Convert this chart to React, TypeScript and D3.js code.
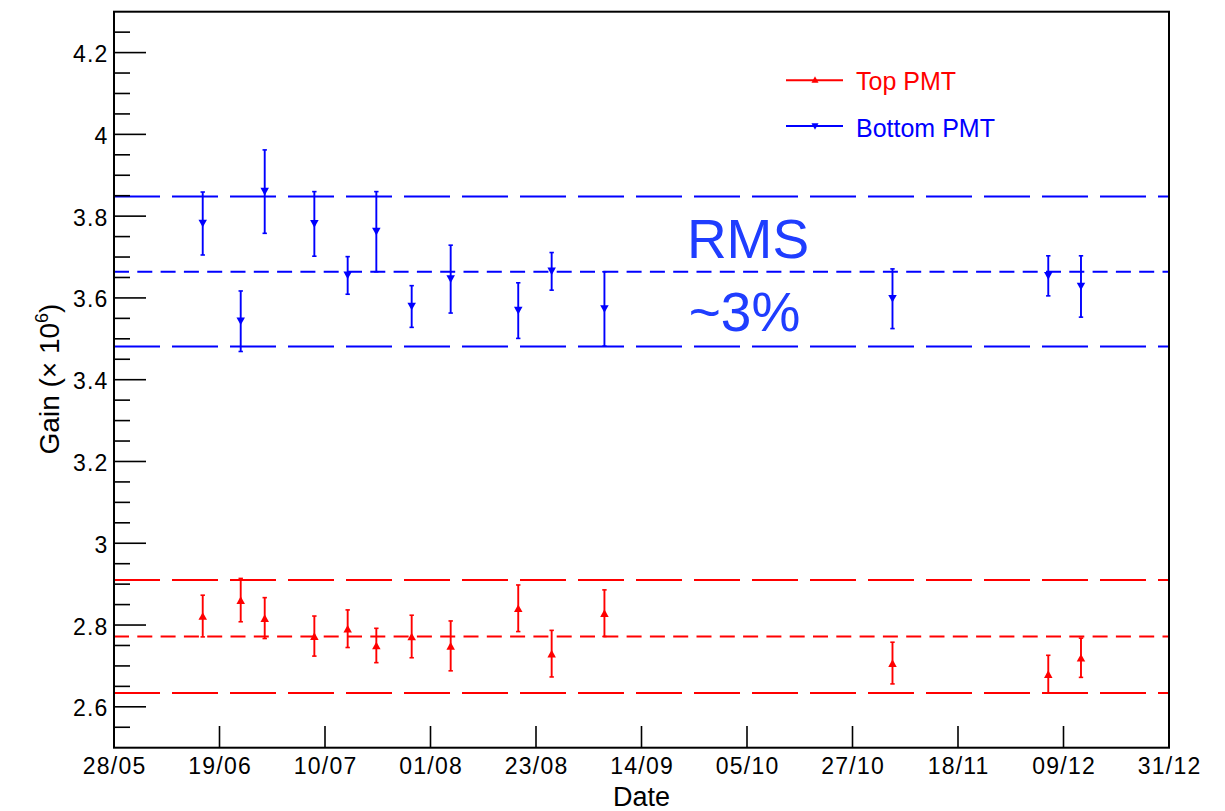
import React from "react";
import * as d3 from "d3";

// ---------- data ----------
const dates = [
  "2015-06-15T06:00:00Z",
  "2015-06-23T01:30:00Z",
  "2015-06-28T00:00:00Z",
  "2015-07-08T05:00:00Z",
  "2015-07-15T01:30:00Z",
  "2015-07-20T23:00:00Z",
  "2015-07-28T05:30:00Z",
  "2015-08-05T06:00:00Z",
  "2015-08-19T03:30:00Z",
  "2015-08-26T00:30:00Z",
  "2015-09-05T21:00:00Z",
  "2015-11-04T03:00:00Z",
  "2015-12-06T04:00:00Z",
  "2015-12-12T21:30:00Z",
];
const topGain = [2.822, 2.861, 2.817, 2.773, 2.791, 2.75, 2.772, 2.749, 2.841, 2.73, 2.829, 2.707, 2.68, 2.72];
const topErr = [0.051, 0.053, 0.05, 0.049, 0.046, 0.042, 0.052, 0.061, 0.057, 0.057, 0.057, 0.051, 0.046, 0.048];
const bottomGain = [3.782, 3.543, 3.86, 3.781, 3.655, 3.762, 3.579, 3.646, 3.569, 3.665, 3.573, 3.598, 3.654, 3.628];
const bottomErr = [0.077, 0.074, 0.102, 0.079, 0.046, 0.098, 0.051, 0.083, 0.068, 0.046, 0.091, 0.073, 0.049, 0.075];

const topBand = { mean: 2.772, hi: 2.91, lo: 2.634 };
const bottomBand = { mean: 3.664, hi: 3.848, lo: 3.481 };

const xTickLabels = ["28/05", "19/06", "10/07", "01/08", "23/08", "14/09", "05/10", "27/10", "18/11", "09/12", "31/12"];
const yTickValues = [2.6, 2.8, 3, 3.2, 3.4, 3.6, 3.8, 4, 4.2];
const xDomain = ["2015-05-28T00:00:00Z", "2015-12-31T00:00:00Z"];
const yDomain = [2.5, 4.3];

const RED = "#ff0000";
const BLUE = "#0000ff";
const FONT = "'Liberation Sans', Arial, Helvetica, sans-serif";

export default function App() {
  const W = 1225, H = 811;
  const left = 114, right = 1169, top = 11.7, bottom = 747.7;

  const t0 = new Date(xDomain[0]);
  const t1 = new Date(xDomain[1]);
  const x = d3.scaleUtc().domain([t0, t1]).range([left, right]);
  const y = d3.scaleLinear().domain(yDomain).range([bottom, top]);

  const span = t1.getTime() - t0.getTime();
  const xTicks = xTickLabels.map((lab, i) => ({
    lab,
    d: new Date(t0.getTime() + (i * span) / (xTickLabels.length - 1)),
  }));

  const minorY = d3
    .range(0, 37)
    .map((i) => yDomain[0] + i * 0.05)
    .filter((v) => v > yDomain[0] + 1e-6 && v < yDomain[1] - 1e-6)
    .filter((v) => !yTickValues.some((m) => Math.abs(m - v) < 1e-6));

  const pts = dates.map((s) => new Date(s));

  const tri = (cx: number, cy: number, s: number, up: boolean) => {
    const h = s * 0.9;
    return up
      ? `M${cx - s / 2},${cy + h / 2}L${cx + s / 2},${cy + h / 2}L${cx},${cy - h / 2}Z`
      : `M${cx - s / 2},${cy - h / 2}L${cx + s / 2},${cy - h / 2}L${cx},${cy + h / 2}Z`;
  };

  const series = [
    { vals: topGain, errs: topErr, color: RED, up: true },
    { vals: bottomGain, errs: bottomErr, color: BLUE, up: false },
  ];

  const bands = [
    { b: topBand, color: RED },
    { b: bottomBand, color: BLUE },
  ];

  return (
    <svg width={W} height={H} style={{ position: "absolute", left: 0, top: 0, background: "#fff" }} fontFamily={FONT}>
      {/* bands */}
      {bands.map(({ b, color }, i) => (
        <g key={"band" + i} stroke={color} strokeWidth={2} fill="none">
          <line x1={left} x2={right} y1={y(b.hi)} y2={y(b.hi)} strokeDasharray="46 12" />
          <line x1={left} x2={right} y1={y(b.lo)} y2={y(b.lo)} strokeDasharray="46 12" />
          <line x1={left} x2={right} y1={y(b.mean)} y2={y(b.mean)} strokeDasharray="15 8.3" />
        </g>
      ))}

      {/* data */}
      {series.map((s, si) => (
        <g key={"s" + si}>
          {s.vals.map((v, i) => {
            const cx = x(pts[i]);
            const yh = y(v + s.errs[i]);
            const yl = y(v - s.errs[i]);
            return (
              <g key={i} stroke={s.color} fill={s.color}>
                <line x1={cx} x2={cx} y1={yh} y2={yl} strokeWidth={1.9} />
                <line x1={cx - 2.2} x2={cx + 2.2} y1={yh} y2={yh} strokeWidth={1.6} />
                <line x1={cx - 2.2} x2={cx + 2.2} y1={yl} y2={yl} strokeWidth={1.6} />
                <path d={tri(cx, y(v), 8.5, s.up)} stroke="none" />
              </g>
            );
          })}
        </g>
      ))}

      {/* frame */}
      <rect x={left} y={top} width={right - left} height={bottom - top} fill="none" stroke="#000" strokeWidth={2} />

      {/* y axis ticks */}
      {yTickValues.map((v) => (
        <g key={"yt" + v}>
          <line x1={left} x2={left + 32} y1={y(v)} y2={y(v)} stroke="#000" strokeWidth={1.6} />
          <text x={108.5} y={y(v) + 9.5} textAnchor="end" fontSize={23} letterSpacing={1.2} fill="#000">
            {String(v)}
          </text>
        </g>
      ))}
      {minorY.map((v, i) => (
        <line key={"ym" + i} x1={left} x2={left + 16} y1={y(v)} y2={y(v)} stroke="#000" strokeWidth={1.6} />
      ))}

      {/* x axis ticks */}
      {xTicks.map((t, i) => (
        <g key={"xt" + i}>
          {i > 0 && i < xTicks.length - 1 && (
            <line x1={x(t.d)} x2={x(t.d)} y1={bottom} y2={bottom - 21.7} stroke="#000" strokeWidth={1.6} />
          )}
          <text x={x(t.d) + 0.6} y={774} textAnchor="middle" fontSize={23} letterSpacing={1.2} fill="#000">
            {t.lab}
          </text>
        </g>
      ))}

      {/* axis titles */}
      <text x={(left + right) / 2} y={806} textAnchor="middle" fontSize={27} fill="#000">
        Date
      </text>
      <text transform="translate(59,379) rotate(-90)" textAnchor="middle" fontSize={28} fill="#000">
        Gain (× 10<tspan dy={-11} fontSize={18}>6</tspan><tspan dy={11}>)</tspan>
      </text>

      {/* legend */}
      <g>
        <line x1={786} x2={843} y1={80.3} y2={80.3} stroke={RED} strokeWidth={2} />
        <path d={tri(815, 79.5, 7, true)} fill={RED} />
        <text x={856} y={89.5} fontSize={25} fill={RED}>Top PMT</text>
        <line x1={786} x2={843} y1={126} y2={126} stroke={BLUE} strokeWidth={2} />
        <path d={tri(815, 126.5, 7, false)} fill={BLUE} />
        <text x={856} y={137.3} fontSize={25} fill={BLUE}>Bottom PMT</text>
      </g>

      {/* annotation */}
      <text x={748} y={258.3} textAnchor="middle" fontSize={55} fill="#1f3dff">RMS</text>
      <text x={744.5} y={331} textAnchor="middle" fontSize={55} fill="#1f3dff">~3%</text>
    </svg>
  );
}
